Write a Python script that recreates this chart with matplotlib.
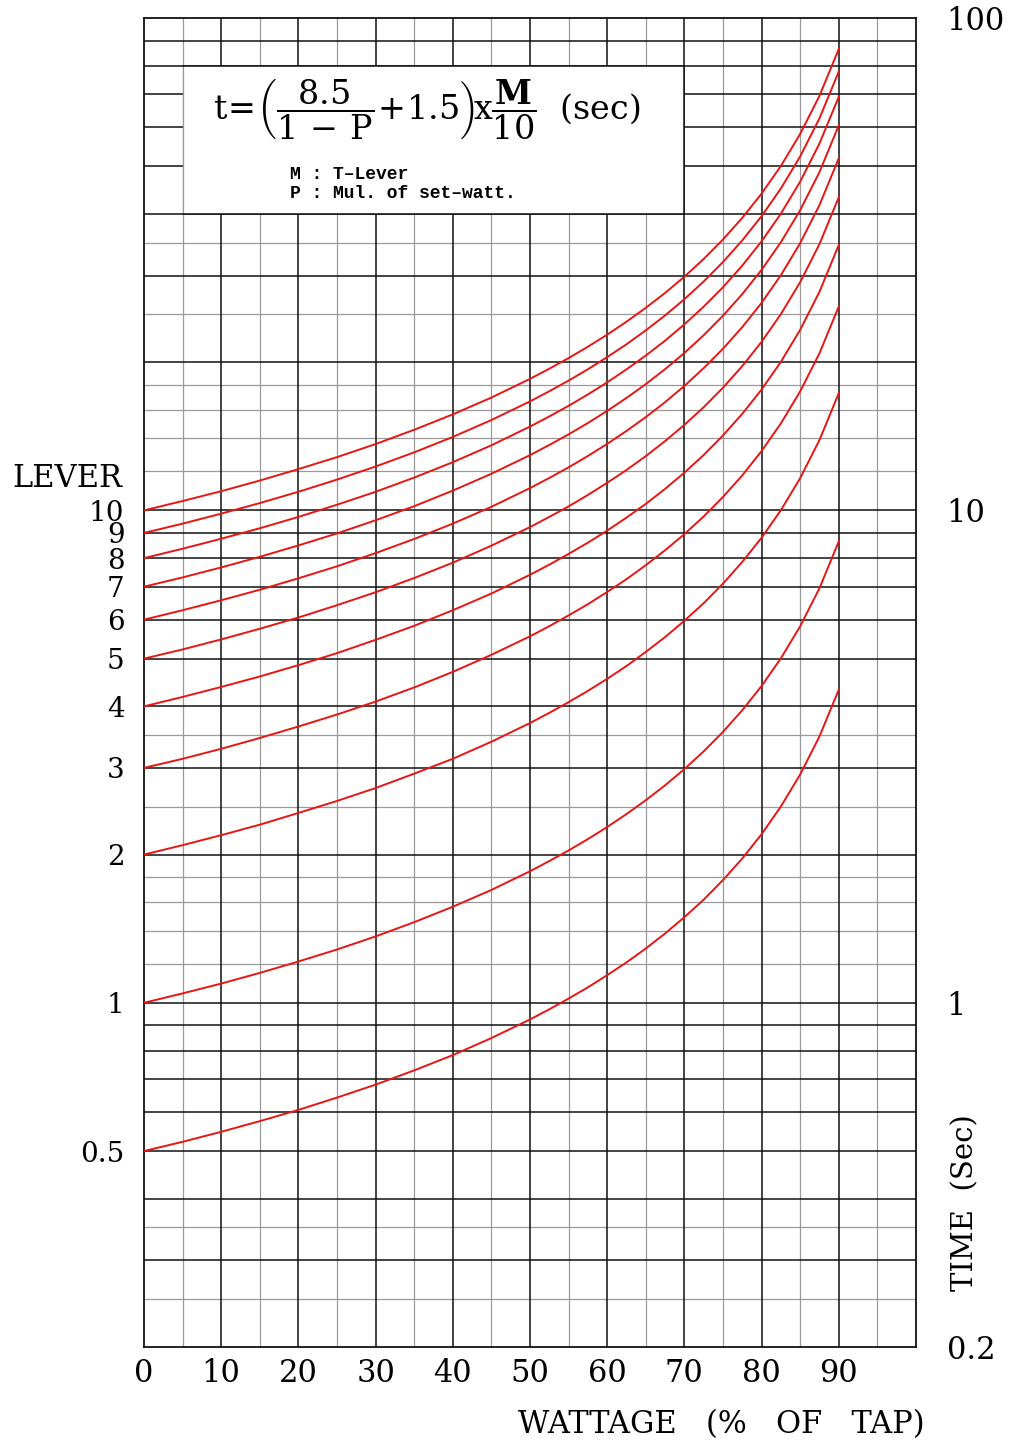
import numpy as np
import matplotlib
matplotlib.use("Agg")
import matplotlib.pyplot as plt
from matplotlib.patches import Rectangle

# Данные: время срабатывания (сек) по рычагу (lever) и мощности (% от уставки)
wattage = [0, 5, 10, 15, 20, 25, 30, 35, 40, 45, 50, 52.5, 55, 57.5, 60, 62.5, 65, 67.5,
           70, 72.5, 75, 77.5, 80, 82.5, 85, 87.5, 90]

levers = [10, 9, 8, 7, 6, 5, 4, 3, 2, 1, 0.5]
lever_labels = ["10", "9", "8", "7", "6", "5", "4", "3", "2", "1", "0.5"]

time_lever_10 = [10, 10.45, 10.94, 11.5, 12.13, 12.83, 13.64, 14.58, 15.67, 16.95, 18.5,
                 19.4, 20.39, 21.5, 22.75, 24.17, 25.79, 27.65, 29.83, 32.41, 35.5, 39.28,
                 44.0, 50.07, 58.17, 69.5, 86.5]
time_lever_9 = [9, 9.40, 9.85, 10.35, 10.91, 11.55, 12.28, 13.12, 14.10, 15.26, 16.65,
                17.46, 18.35, 19.35, 20.48, 21.75, 23.21, 24.89, 26.85, 29.17, 31.95, 35.35,
                39.6, 45.06, 52.35, 62.55, 77.85]
time_lever_8 = [8, 8.36, 8.76, 9.2, 9.70, 10.27, 10.91, 11.66, 12.53, 13.56, 14.8,
                15.52, 16.31, 17.2, 18.2, 19.34, 20.63, 22.12, 23.87, 25.93, 28.4, 31.42,
                35.2, 40.06, 46.53, 55.6, 69.2]
time_lever_7 = [7, 7.31, 7.66, 8.05, 8.49, 8.98, 9.55, 10.20, 10.97, 11.87, 12.95,
                13.58, 14.27, 15.05, 15.93, 16.92, 18.05, 19.36, 20.88, 22.69, 24.85, 27.5,
                30.8, 35.05, 40.72, 48.65, 60.55]
time_lever_6 = [6, 6.27, 6.57, 6.9, 7.28, 7.70, 8.19, 8.75, 9.40, 10.17, 11.1,
                11.64, 12.23, 12.9, 13.65, 14.5, 15.47, 16.59, 17.9, 19.45, 21.3, 23.57,
                26.4, 30.04, 34.9, 41.7, 51.9]
time_lever_5 = [5, 5.22, 5.47, 5.75, 6.06, 6.42, 6.82, 7.29, 7.83, 8.48, 9.25,
                9.7, 10.19, 10.75, 11.38, 12.08, 12.89, 13.83, 14.92, 16.2, 17.75, 19.64,
                22.0, 25.04, 29.08, 34.75, 43.25]
time_lever_4 = [4, 4.18, 4.38, 4.6, 4.85, 5.13, 5.46, 5.83, 6.27, 6.78, 7.4,
                7.76, 8.16, 8.6, 9.1, 9.67, 10.31, 11.06, 11.93, 12.96, 14.2, 15.71,
                17.6, 20.03, 23.27, 27.8, 34.6]
time_lever_3 = [3, 3.13, 3.28, 3.45, 3.64, 3.85, 4.09, 4.37, 4.70, 5.09, 5.55,
                5.82, 6.12, 6.45, 6.83, 7.25, 7.74, 8.3, 8.95, 9.72, 10.65, 11.78,
                13.2, 15.02, 17.45, 20.85, 25.95]
time_lever_2 = [2, 2.09, 2.19, 2.3, 2.43, 2.57, 2.73, 2.92, 3.13, 3.39, 3.7,
                3.88, 4.08, 4.3, 4.55, 4.83, 5.16, 5.53, 5.97, 6.48, 7.1, 7.86,
                8.8, 10.01, 11.63, 13.9, 17.3]
time_lever_1 = [1, 1.045, 1.094, 1.15, 1.213, 1.283, 1.364, 1.458, 1.567, 1.695, 1.85,
                1.94, 2.039, 2.15, 2.275, 2.417, 2.579, 2.765, 2.983, 3.241, 3.55, 3.928,
                4.4, 5.007, 5.817, 6.95, 8.65]
time_lever_05 = [0.5, 0.522, 0.547, 0.575, 0.606, 0.642, 0.682, 0.729, 0.783, 0.848, 0.925,
                 0.97, 1.02, 1.075, 1.138, 1.208, 1.289, 1.383, 1.492, 1.62, 1.775, 1.964,
                 2.2, 2.504, 2.909, 3.475, 4.325]

curves = [time_lever_10, time_lever_9, time_lever_8, time_lever_7, time_lever_6,
          time_lever_5, time_lever_4, time_lever_3, time_lever_2, time_lever_1,
          time_lever_05]

x_ticks = [0, 10, 20, 30, 40, 50, 60, 70, 80, 90]
right_ticks = [0.2, 1, 10, 100]
right_labels = ["0.2", "1", "10", "100"]

SERIF = "DejaVu Serif"
DARK = "#111111"
LIGHT = "#9a9a9a"

plt.rcParams["mathtext.fontset"] = "custom"
plt.rcParams["mathtext.rm"] = SERIF
plt.rcParams["mathtext.bf"] = SERIF + ":bold"

fig = plt.figure(figsize=(10.09, 14.44), dpi=100)
ax = fig.add_axes([0.1427, 0.0672, 0.7651, 0.9203])
ax.set_yscale("log")
ax.set_xlim(0, 100)
ax.set_ylim(0.2, 100)

# сетка: тонкие серые и толстые чёрные линии
for n in (-1, 0, 1):
    for m in (1.2, 1.4, 1.6, 1.8, 2.5, 3.5):
        v = m * 10 ** n
        if 0.2 < v < 100:
            ax.axhline(v, color=LIGHT, lw=0.9, zorder=1)
    for k in range(1, 10):
        v = k * 10 ** n
        if 0.2 < v < 100:
            ax.axhline(v, color=DARK, lw=1.1, zorder=1.2)
for xv in range(5, 100, 10):
    ax.axvline(xv, color=LIGHT, lw=0.9, zorder=1)
for xv in range(10, 100, 10):
    ax.axvline(xv, color=DARK, lw=1.1, zorder=1.2)

# белая рамка с формулой
ax.add_patch(Rectangle((5, 40), 65, 40, facecolor="white", edgecolor="none", zorder=2))
ax.plot([5, 5], [40, 80], color=LIGHT, lw=0.9, zorder=2.5)
ax.plot([70, 70], [40, 80], color=DARK, lw=1.1, zorder=2.5)
ax.plot([5, 70], [40, 40], color=DARK, lw=1.1, zorder=2.5)
ax.plot([5, 70], [80, 80], color=DARK, lw=1.1, zorder=2.5)

for s in ax.spines.values():
    s.set_color(DARK)
    s.set_linewidth(1.3)

# кривые
for t in curves:
    ax.plot(wattage, t, color="#e81515", lw=1.4, zorder=3)

ax.text(0.089, 0.931,
        r"$\mathrm{t\!=\!\left(\dfrac{8.5}{1\,-\,P}\!+\!1.5\right)\!x\dfrac{\mathbf{M}}{10}}$  (sec)",
        transform=ax.transAxes, family=SERIF, fontsize=24, ha="left", va="center", zorder=4)
ax.text(0.189, 0.882, "M : T–Lever", transform=ax.transAxes, family="Liberation Mono",
        weight="bold", fontsize=13, ha="left", va="center", zorder=4)
ax.text(0.189, 0.868, "P : Mul. of set–watt.", transform=ax.transAxes,
        family="Liberation Mono", weight="bold", fontsize=13, ha="left", va="center", zorder=4)

# оси
ax.set_xticks(x_ticks)
ax.set_xticklabels([str(v) for v in x_ticks], family=SERIF, fontsize=22)
ax.set_yticks(levers)
ax.set_yticklabels(lever_labels, family=SERIF, fontsize=20, va="center_baseline")
ax.yaxis.set_minor_locator(matplotlib.ticker.NullLocator())
ax.tick_params(axis="x", length=0, pad=8)
ax.tick_params(axis="y", length=0, pad=14)

ax2 = ax.twinx()
ax2.set_yscale("log")
ax2.set_ylim(0.2, 100)
ax2.set_yticks(right_ticks)
ax2.set_yticklabels(right_labels, family=SERIF, fontsize=22)
ax2.yaxis.set_minor_locator(matplotlib.ticker.NullLocator())
ax2.tick_params(axis="y", length=0, pad=22)
for s in ax2.spines.values():
    s.set_visible(False)

fig.text(12 / 1009, 1 - 478 / 1444, "LEVER", family=SERIF, fontsize=22, ha="left", va="center")
fig.text(925 / 1009, 1 - 1425 / 1444, "WATTAGE   (%   OF   TAP)", family=SERIF, fontsize=22,
         ha="right", va="center")
fig.text(965 / 1009, 1 - 1203 / 1444, "TIME  (Sec)", family=SERIF, fontsize=21,
         rotation=90, ha="center", va="center")

fig.savefig("out.png", dpi=100, facecolor="white")
